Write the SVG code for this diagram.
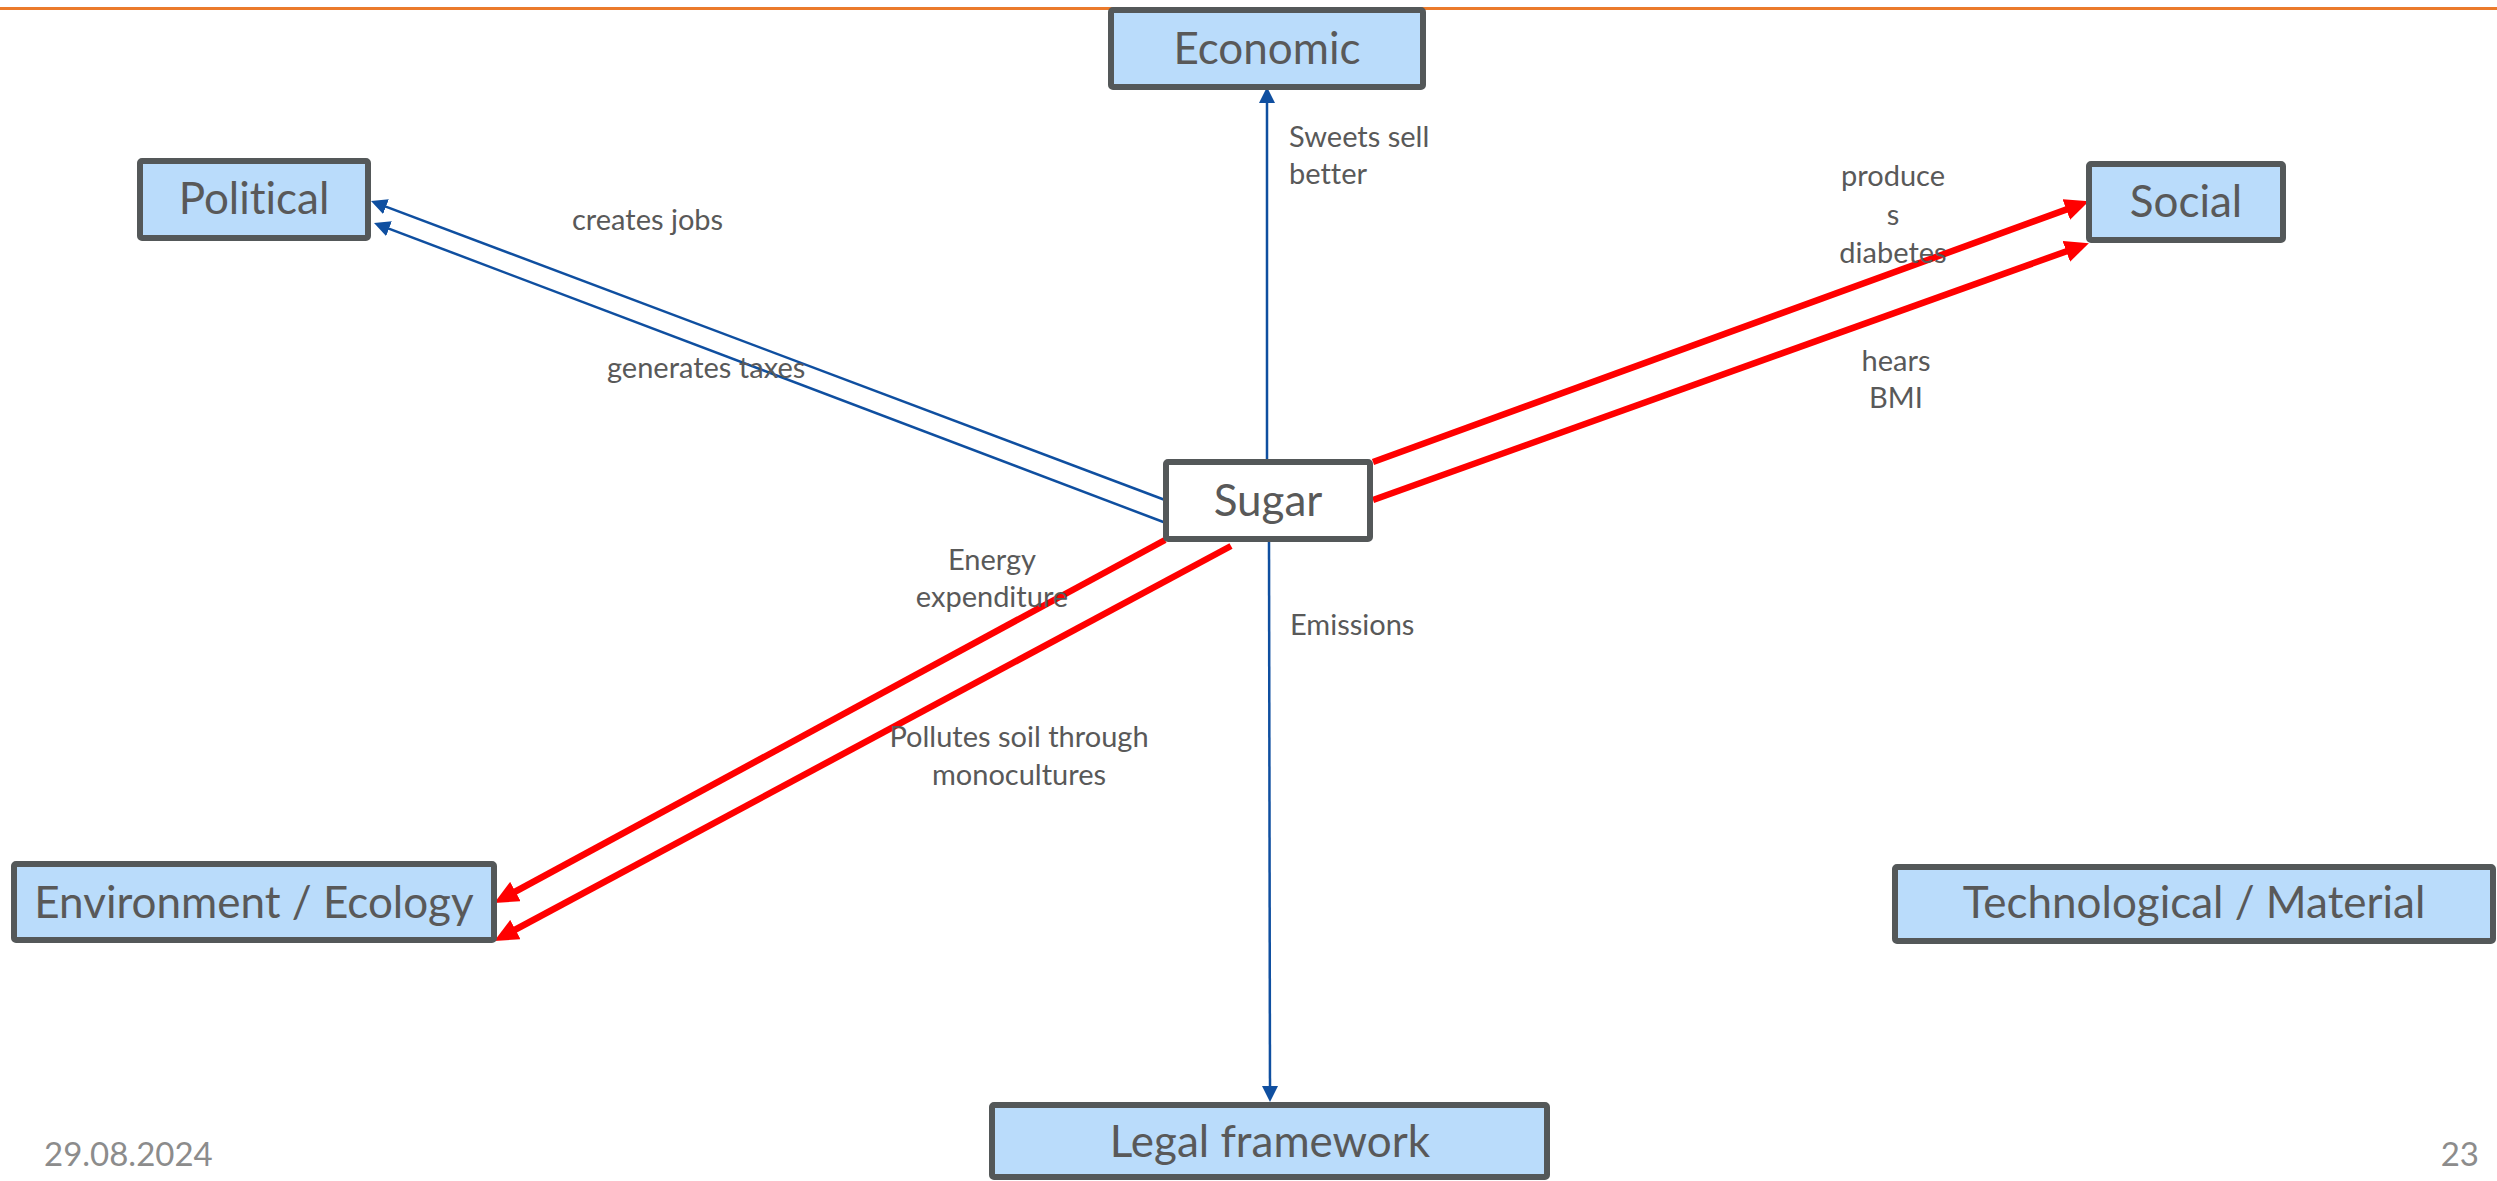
<svg xmlns="http://www.w3.org/2000/svg" width="2497" height="1181" viewBox="0 0 2497 1181">
  <style>
    text { font-variant-ligatures: none; }
    .box { fill: #BADCFB; stroke: #545859; stroke-width: 6; }
    .core { fill: #FFFFFF; stroke: #545859; stroke-width: 6; }
    .title { font-family: Lato, "Liberation Sans", sans-serif; font-size: 44px; fill: #595959; text-anchor: middle; }
    .lbl { font-family: Lato, "Liberation Sans", sans-serif; font-size: 29px; fill: #595959; }
    .mid { text-anchor: middle; }
    .foot { font-family: Lato, "Liberation Sans", sans-serif; font-size: 33px; fill: #8C8C8C; }
    .blue { stroke: #0F4FA0; stroke-width: 2.5; fill: none; marker-end: url(#headBlue); }
    .red { stroke: #FF0000; stroke-width: 6.5; fill: none; marker-end: url(#headRed); }
  </style>
  <defs>
    <marker id="headBlue" markerUnits="userSpaceOnUse" markerWidth="16" markerHeight="16" refX="8" refY="8" orient="auto">
      <path d="M0,0 L16,8 L0,16 z" fill="#0F4FA0"/>
    </marker>
    <marker id="headRed" markerUnits="userSpaceOnUse" markerWidth="24" markerHeight="22" refX="10" refY="11" orient="auto">
      <path d="M0,0 L24,11 L0,22 z" fill="#FF0000"/>
    </marker>
  </defs>

  <!-- header rule -->
  <line x1="0" y1="8.5" x2="2497" y2="8.5" stroke="#EB7A2B" stroke-width="3"/>

  <!-- connectors -->
  <g id="connectors">
    <line class="blue" x1="1267" y1="459" x2="1267" y2="95"/>
    <line class="blue" x1="1269" y1="542" x2="1270" y2="1094"/>
    <line class="blue" x1="1165" y1="500" x2="378.5" y2="203.8"/>
    <line class="blue" x1="1166" y1="523" x2="381.5" y2="225.8"/>
    <line class="red" x1="1373" y1="462" x2="2075.7" y2="206.1"/>
    <line class="red" x1="1373" y1="500" x2="2075.7" y2="248"/>
    <line class="red" x1="1165" y1="540" x2="506.6" y2="896.3"/>
    <line class="red" x1="1231" y1="546" x2="506.6" y2="934.3"/>
  </g>

  <!-- connector labels -->
  <g id="labels">
    <text class="lbl" x="1289" y="147">Sweets sell</text>
    <text class="lbl" x="1289" y="184">better</text>
    <text class="lbl" x="572" y="230">creates jobs</text>
    <text class="lbl" x="607" y="378">generates taxes</text>
    <text class="lbl mid" x="1893" y="186">produce</text>
    <text class="lbl mid" x="1893" y="225">s</text>
    <text class="lbl mid" x="1893" y="263">diabetes</text>
    <text class="lbl mid" x="1896" y="371">hears</text>
    <text class="lbl mid" x="1896" y="408">BMI</text>
    <text class="lbl mid" x="992" y="570">Energy</text>
    <text class="lbl mid" x="992" y="607">expenditure</text>
    <text class="lbl mid" x="1019" y="747">Pollutes soil through</text>
    <text class="lbl mid" x="1019" y="785">monocultures</text>
    <text class="lbl" x="1290" y="635">Emissions</text>
  </g>

  <!-- nodes -->
  <g id="economic">
    <rect class="box" x="1111" y="10" width="312" height="77" rx="2"/>
    <text class="title" x="1267" y="64">Economic</text>
  </g>
  <g id="political">
    <rect class="box" x="140" y="161" width="228" height="77" rx="2"/>
    <text class="title" x="254" y="214">Political</text>
  </g>
  <g id="social">
    <rect class="box" x="2089" y="164" width="194" height="76" rx="2"/>
    <text class="title" x="2186" y="217">Social</text>
  </g>
  <g id="sugar">
    <rect class="core" x="1166" y="462" width="204" height="77" rx="2"/>
    <text class="title" x="1268" y="516">Sugar</text>
  </g>
  <g id="environment">
    <rect class="box" x="14" y="864" width="480" height="76" rx="2"/>
    <text class="title" x="254" y="918">Environment / Ecology</text>
  </g>
  <g id="technological">
    <rect class="box" x="1895" y="867" width="598" height="74" rx="2"/>
    <text class="title" x="2194" y="918">Technological / Material</text>
  </g>
  <g id="legal">
    <rect class="box" x="992" y="1105" width="555" height="72" rx="2"/>
    <text class="title" x="1270" y="1157">Legal framework</text>
  </g>

  <!-- footer -->
  <text class="foot" x="44" y="1166">29.08.2024</text>
  <text class="foot" x="2479" y="1166" text-anchor="end">23</text>
</svg>
